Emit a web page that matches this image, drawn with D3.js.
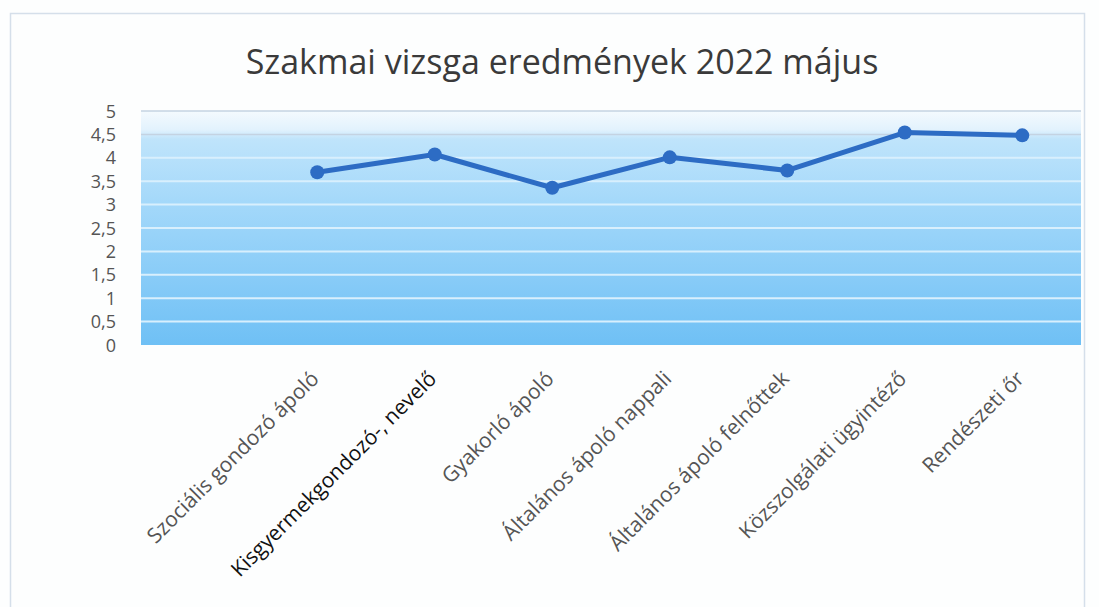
<!DOCTYPE html>
<html>
<head>
<meta charset="utf-8">
<script src="https://cdn.jsdelivr.net/npm/d3@7"></script>
<style>
  body { margin: 0; background: #fdfefe; }
  svg { display: block; }
</style>
</head>
<body>
<div id="chart"></div>
<script>
// chart data (first category is empty in the original sheet)
var categories = ["", "Szociális gondozó ápoló", "Kisgyermekgondozó-, nevelő", "Gyakorló ápoló",
  "Általános ápoló nappali", "Általános ápoló felnőttek", "Közszolgálati ügyintéző", "Rendészeti őr"];
var values = [null, 3.69, 4.07, 3.36, 4.01, 3.73, 4.54, 4.48];
var yTicks = [0, 0.5, 1, 1.5, 2, 2.5, 3, 3.5, 4, 4.5, 5];
var title = "Szakmai vizsga eredmények 2022 május";

var W = 1099, H = 607;
var margin = {top: 111, right: 18, bottom: 262, left: 141},
    width = W - margin.left - margin.right,
    height = H - margin.top - margin.bottom;

var svg = d3.select("#chart").append("svg")
    .attr("width", W)
    .attr("height", H);

// outer frame of the chart object
svg.append("path")
    .attr("d", "M10.5," + H + "V13.5H1084.5V" + H)
    .attr("fill", "none")
    .attr("stroke", "#d5dfea")
    .attr("stroke-width", 1.5);

svg.append("text")
    .attr("x", 562)
    .attr("y", 74)
    .attr("text-anchor", "middle")
    .style("font-family", "'Open Sans', sans-serif")
    .style("font-size", "34px")
    .style("fill", "#3a3a3a")
    .text(title);

// background gradient
var defs = svg.append("defs");
var grad = defs.append("linearGradient")
    .attr("id", "bg").attr("x1", 0).attr("y1", 0).attr("x2", 0).attr("y2", 1);
grad.append("stop").attr("offset", "0%").attr("stop-color", "#f4fafe");
grad.append("stop").attr("offset", "8%").attr("stop-color", "#e2f2fd");
grad.append("stop").attr("offset", "12%").attr("stop-color", "#bfe4fb");
grad.append("stop").attr("offset", "40%").attr("stop-color", "#a3d8fa");
grad.append("stop").attr("offset", "100%").attr("stop-color", "#6fc0f5");

var g = svg.append("g")
    .attr("transform", "translate(" + margin.left + "," + margin.top + ")");

var x = d3.scaleBand().domain(categories).range([0, width]);
var y = d3.scaleLinear().domain([0, 5]).range([height, 0]);

g.append("rect")
    .attr("width", width)
    .attr("height", height)
    .attr("fill", "url(#bg)");

// gridlines
g.selectAll(".grid")
    .data(yTicks.filter(function(d) { return d > 0; }))
    .enter().append("line")
    .attr("x1", 0).attr("x2", width)
    .attr("y1", function(d) { return y(d); })
    .attr("y2", function(d) { return y(d); })
    .attr("stroke", function(d) { return d >= 4.5 ? "#c4d3e2" : "#d8effd"; })
    .attr("stroke-width", function(d) { return d >= 4.5 ? 1.5 : 2; });

// y axis labels
var yAxis = g.append("g")
    .call(d3.axisLeft(y).tickValues(yTicks).tickSize(0).tickPadding(25)
      .tickFormat(function(d) { return String(d).replace(".", ","); }));
yAxis.select(".domain").remove();
yAxis.selectAll("text")
    .attr("dy", "0.34em")
    .style("font-family", "'Open Sans', sans-serif")
    .style("font-size", "18px")
    .style("fill", "#555");

// x axis labels, rotated
var xAxis = g.append("g")
    .attr("transform", "translate(0," + height + ")")
    .call(d3.axisBottom(x).tickSize(0).tickPadding(0));
xAxis.select(".domain").remove();
xAxis.selectAll("text")
    .attr("text-anchor", "end")
    .attr("dy", 0)
    .attr("transform", "translate(3,35) rotate(-45)")
    .style("font-family", "'Open Sans', sans-serif")
    .style("font-size", "21px")
    .style("fill", function(d) { return d.indexOf("Kisgyermek") === 0 ? "#111" : "#555"; });

// the line
var pts = categories.map(function(c, i) { return {c: c, v: values[i]}; })
    .filter(function(d) { return d.v !== null; });

var line = d3.line()
    .x(function(d) { return x(d.c) + x.bandwidth() / 2; })
    .y(function(d) { return y(d.v); });

g.append("path")
    .datum(pts)
    .attr("d", line)
    .attr("fill", "none")
    .attr("stroke", "#2d6cc4")
    .attr("stroke-width", 5)
    .attr("stroke-linejoin", "round");

g.selectAll(".dot")
    .data(pts)
    .enter().append("circle")
    .attr("cx", function(d) { return x(d.c) + x.bandwidth() / 2; })
    .attr("cy", function(d) { return y(d.v); })
    .attr("r", 7)
    .attr("fill", "#2d6cc4");
</script>
</body>
</html>
